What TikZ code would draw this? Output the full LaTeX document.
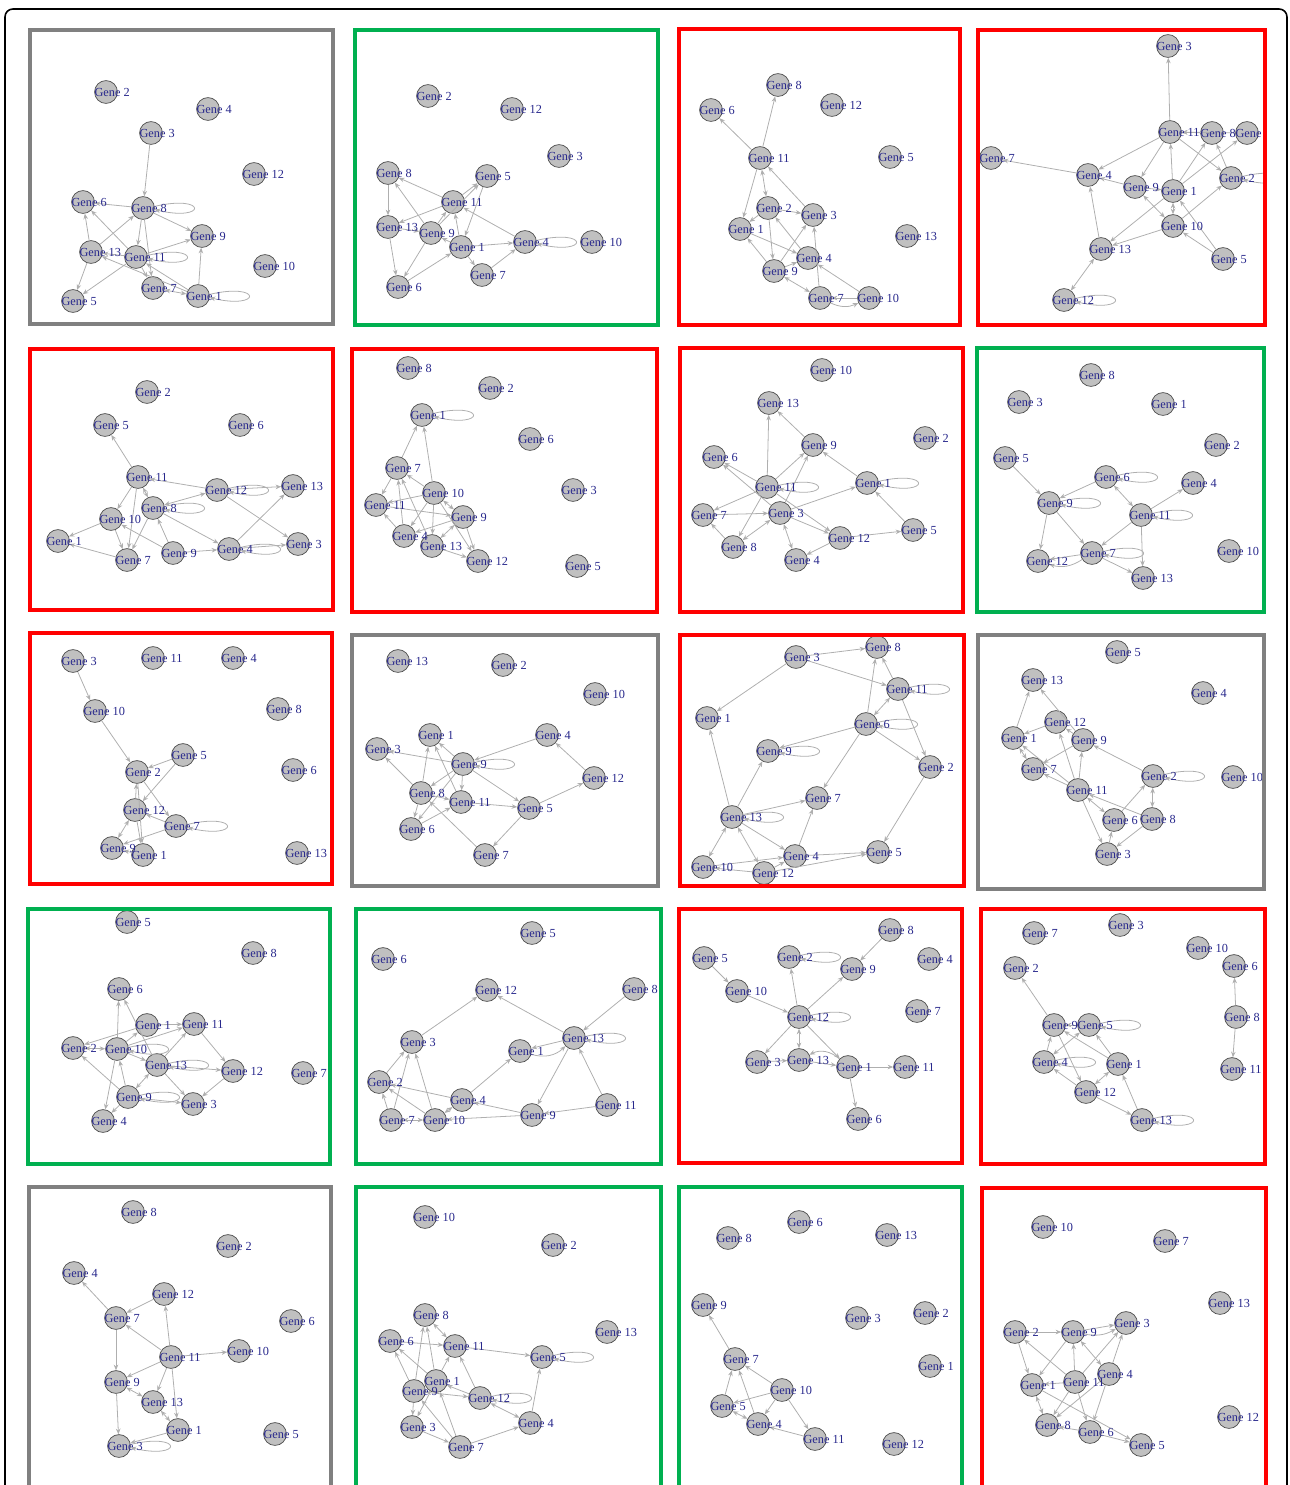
\documentclass[tikz,border=0pt]{standalone}
\usepackage{fontspec}
\setmainfont{Liberation Serif}
\usetikzlibrary{arrows.meta}

\definecolor{labelblue}{RGB}{40,40,140}
\definecolor{linkgray}{RGB}{175,175,175}
\definecolor{nodegray}{RGB}{192,192,192}
\definecolor{framegray}{RGB}{128,128,128}
\definecolor{framegreen}{RGB}{0,176,80}
\definecolor{framered}{RGB}{255,0,0}

\newcommand{\placegenes}[2]{\foreach \g/\x/\y in #2 {\node[gene] (#1g\g) at (\x,\y) {};}}
\newcommand{\labelgenes}[2]{\foreach \g/\x/\y in #2 {\node[genelabel] at (#1g\g.west) {Gene \g};}}
\newcommand{\selfloop}[1]{%
  \draw[link] (#1.8) .. controls +(30pt,7pt) and +(30pt,-7pt) .. (#1.-8);}

\begin{document}
\begin{tikzpicture}[
  x=0.02cm, y=-0.02cm,
  gene/.style={circle, draw=black!70, fill=nodegray, minimum size=13pt, inner sep=0pt, line width=0.4pt},
  genelabel/.style={anchor=west, inner sep=0pt, font=\fontsize{7}{8}\selectfont, text=labelblue},
  link/.style={draw=linkgray, line width=0.45pt, -{Stealth[length=3.2pt, width=2.6pt]}},
  twoway/.style={link, {Stealth[length=3.2pt, width=2.6pt]}-{Stealth[length=3.2pt, width=2.6pt]}},
  frame/.style={line width=2.8pt}
]
\useasboundingbox (0,0) rectangle (1290,1485);
\draw[line width=0.9pt, rounded corners=4.5pt] (5,9) rectangle (1287,1530);

% panel 1
\def\genes{2/106/92, 4/208/109, 3/151/133, 12/254/174, 6/83/202, 8/143/208, 9/202/236,
  13/91/252, 11/136/257, 10/265/266, 7/153/288, 1/198/296, 5/73/301}
\placegenes{pa}{\genes}
\foreach \a/\b in {3/8, 8/6, 8/9, 8/11, 8/7, 13/6, 13/8, 11/6, 11/13, 11/9, 11/7, 11/5, 13/5, 1/13, 1/11, 1/9}
  \draw[link] (pag\a) -- (pag\b);
\draw[twoway] (pag1) -- (pag7);
\foreach \g in {8, 11, 1} {\selfloop{pag\g}}
\labelgenes{pa}{\genes}

% panel 2
\def\genes{2/428/96, 12/512/109, 3/559/156, 8/388/173, 5/487/176, 11/453/202, 13/388/227,
  9/431/233, 1/461/247, 4/525/242, 10/592/242, 7/482/275, 6/398/287}
\placegenes{pb}{\genes}
\foreach \a/\b in {11/8, 8/13, 11/13, 13/9, 9/8, 9/11, 9/5, 11/5, 5/1, 1/11, 1/9, 1/4, 4/11, 1/7, 7/4, 6/1, 9/6, 13/6}
  \draw[link] (pbg\a) -- (pbg\b);
\selfloop{pbg4}
\labelgenes{pb}{\genes}

% panel 3
\def\genes{8/778/85, 6/711/110, 12/832/105, 11/760/158, 5/890/157, 2/768/208, 3/813/215,
  1/740/229, 13/907/236, 4/808/258, 9/774/271, 7/820/298, 10/869/298}
\placegenes{pc}{\genes}
\foreach \a/\b in {11/6, 11/8, 11/1, 3/11, 2/3, 2/1, 2/9, 1/4, 9/1, 9/3, 9/4, 4/2, 7/3, 10/4, 10/7}
  \draw[link] (pcg\a) -- (pcg\b);
\foreach \a/\b in {11/2, 9/7} \draw[twoway] (pcg\a) -- (pcg\b);
\draw[link] (pcg7) to[bend right=25] (pcg10);
\labelgenes{pc}{\genes}

% panel 4
\def\genes{3/1168/46, 11/1170/132, 8/1212/133, 6/1247/133, 7/991/158, 4/1088/175, 9/1135/187,
  1/1173/191, 2/1231/178, 10/1173/226, 13/1101/249, 5/1223/259, 12/1064/300}
\placegenes{pd}{\genes}
\foreach \a/\b in {11/3, 8/11, 6/11, 11/4, 11/9, 11/2, 1/11, 1/8, 1/6, 2/8, 4/7, 9/4, 9/1, 1/13, 10/13, 10/2, 5/10, 5/1, 13/4}
  \draw[link] (pdg\a) -- (pdg\b);
\foreach \a/\b in {10/1, 9/10, 13/12} \draw[twoway] (pdg\a) -- (pdg\b);
\foreach \g in {2, 12} {\selfloop{pdg\g}}
\labelgenes{pd}{\genes}

% panel 5
\def\genes{2/147/392, 5/105/425, 6/240/425, 11/138/477, 12/217/490, 13/293/486, 8/153/508,
  10/111/519, 1/58/541, 7/127/560, 9/173/553, 4/229/549, 3/298/544}
\placegenes{pe}{\genes}
\foreach \a/\b in {11/5, 12/11, 11/10, 11/7, 8/7, 8/4, 12/13, 12/3, 10/1, 10/7, 9/8, 9/10, 7/1, 9/4, 4/3, 4/13}
  \draw[link] (peg\a) -- (peg\b);
\foreach \a/\b in {11/8, 8/12} \draw[twoway] (peg\a) -- (peg\b);
\foreach \g in {8, 12, 4} {\selfloop{peg\g}}
\labelgenes{pe}{\genes}

% panel 6
\def\genes{8/408/368, 2/490/388, 1/422/415, 6/530/439, 7/397/468, 3/573/490, 10/434/493,
  11/376/505, 9/463/517, 4/404/536, 13/432/546, 12/478/561, 5/577/566}
\placegenes{pf}{\genes}
\foreach \a/\b in {7/1, 10/1, 10/7, 7/11, 11/9, 10/11, 10/4, 10/13, 10/12, 4/7, 13/7, 4/11, 9/12, 13/12, 9/4}
  \draw[link] (pfg\a) -- (pfg\b);
\foreach \a/\b in {10/9, 9/13} \draw[twoway] (pfg\a) -- (pfg\b);
\selfloop{pfg1}
\labelgenes{pf}{\genes}

% panel 7
\def\genes{10/822/370, 13/769/403, 2/925/438, 9/813/445, 6/714/457, 11/767/487, 1/867/483,
  7/703/515, 3/780/513, 5/913/530, 12/840/538, 8/733/547, 4/796/560}
\placegenes{pg}{\genes}
\foreach \a/\b in {11/13, 9/13, 11/9, 11/6, 11/7, 11/8, 11/12, 3/6, 3/9, 3/1, 1/9, 5/1, 12/5, 12/4, 3/12, 7/3, 8/7}
  \draw[link] (pgg\a) -- (pgg\b);
\foreach \a/\b in {8/3, 3/4} \draw[twoway] (pgg\a) -- (pgg\b);
\foreach \g in {11, 1} {\selfloop{pgg\g}}
\labelgenes{pg}{\genes}

% panel 8
\def\genes{8/1091/375, 3/1019/402, 1/1163/404, 2/1216/445, 5/1005/458, 6/1106/477, 4/1193/483,
  9/1049/503, 11/1141/515, 10/1229/551, 7/1092/553, 12/1038/561, 13/1143/578}
\placegenes{ph}{\genes}
\foreach \a/\b in {5/9, 6/9, 11/4, 11/7, 11/13, 9/12, 9/7, 7/12, 7/13}
  \draw[link] (phg\a) -- (phg\b);
\draw[twoway] (phg6) -- (phg11);
\draw[link] (phg7) to[bend left=25] (phg12);
\foreach \g in {6, 9, 11, 7} {\selfloop{phg\g}}
\labelgenes{ph}{\genes}

% panel 9
\def\genes{3/73/661, 11/153/658, 4/233/658, 10/95/711, 8/278/709, 5/183/755, 2/137/772,
  6/293/770, 12/135/810, 7/176/826, 9/112/848, 1/143/855, 13/297/853}
\placegenes{pi}{\genes}
\foreach \a/\b in {3/10, 10/2, 5/2, 5/12, 2/7, 12/2, 7/12, 7/9, 12/1, 2/1, 1/9}
  \draw[link] (pig\a) -- (pig\b);
\draw[twoway] (pig12) -- (pig9);
\selfloop{pig7}
\labelgenes{pi}{\genes}

% panel 10
\def\genes{13/398/661, 2/503/665, 10/595/694, 1/430/735, 4/547/735, 3/377/749, 9/463/764,
  12/594/778, 8/421/793, 11/461/802, 5/529/808, 6/411/829, 7/485/855}
\placegenes{pj}{\genes}
\foreach \a/\b in {9/3, 9/1, 4/9, 9/8, 9/11, 9/5, 9/6, 8/1, 8/3, 8/6, 8/11, 11/1, 11/5, 6/11, 5/12, 12/4, 5/7, 7/8}
  \draw[link] (pjg\a) -- (pjg\b);
\selfloop{pjg9}
\labelgenes{pj}{\genes}

% panel 11
\def\genes{8/877/647, 3/796/657, 11/898/689, 1/707/718, 6/866/724, 9/768/751, 2/930/767,
  7/817/798, 13/732/817, 5/878/852, 4/795/856, 10/703/867, 12/764/873}
\placegenes{pk}{\genes}
\foreach \a/\b in {3/8, 3/11, 3/1, 11/8, 6/8, 11/2, 6/2, 6/9, 6/7, 2/5, 13/1, 13/9, 13/7, 13/4, 4/7, 4/5, 12/5, 10/4, 12/10, 12/4}
  \draw[link] (pkg\a) -- (pkg\b);
\foreach \a/\b in {6/11, 13/10, 13/12} \draw[twoway] (pkg\a) -- (pkg\b);
\foreach \g in {11, 6, 9, 13} {\selfloop{pkg\g}}
\labelgenes{pk}{\genes}

% panel 12
\def\genes{5/1117/652, 13/1033/680, 4/1203/693, 12/1056/722, 1/1013/738, 9/1083/740, 7/1033/769,
  2/1153/776, 10/1233/777, 11/1078/790, 6/1114/820, 8/1152/819, 3/1107/854}
\placegenes{pl}{\genes}
\foreach \a/\b in {1/13, 9/13, 12/1, 9/12, 9/7, 11/1, 11/7, 11/12, 11/9, 2/9, 8/11, 6/2, 11/3, 3/6, 8/3}
  \draw[link] (plg\a) -- (plg\b);
\foreach \a/\b in {7/1, 2/8, 11/6} \draw[twoway] (plg\a) -- (plg\b);
\selfloop{plg2}
\labelgenes{pl}{\genes}

% panel 13
\def\genes{5/127/922, 8/253/953, 6/119/989, 1/147/1025, 11/194/1024, 2/73/1048, 10/117/1049,
  13/157/1065, 12/233/1071, 7/303/1073, 9/128/1097, 3/193/1104, 4/103/1121}
\placegenes{pm}{\genes}
\foreach \a/\b in {10/6, 13/6, 1/11, 1/2, 10/1, 10/13, 10/11, 13/12, 13/11, 11/12, 12/3, 13/3, 9/3, 9/2, 9/10, 10/4, 9/4}
  \draw[link] (pmg\a) -- (pmg\b);
\foreach \a/\b in {2/10, 9/13} \draw[twoway] (pmg\a) -- (pmg\b);
\foreach \g in {13, 9, 10} {\selfloop{pmg\g}}
\labelgenes{pm}{\genes}

% panel 14
\def\genes{5/532/933, 6/383/959, 12/487/990, 8/634/989, 3/412/1042, 1/520/1051, 13/574/1038,
  2/379/1082, 4/462/1100, 7/391/1120, 10/435/1120, 9/532/1115, 11/607/1105}
\placegenes{pn}{\genes}
\foreach \a/\b in {3/12, 13/12, 8/13, 13/1, 13/9, 11/13, 4/1, 2/3, 7/3, 10/3, 7/2, 4/2, 10/2, 9/4, 9/10, 11/9}
  \draw[link] (png\a) -- (png\b);
\foreach \a/\b in {10/4, 7/10} \draw[twoway] (png\a) -- (png\b);
\draw[link] (png1) to[bend right=30] (png13);
\selfloop{png13}
\labelgenes{pn}{\genes}

% panel 15
\def\genes{8/890/930, 5/704/958, 2/789/957, 9/852/969, 4/929/959, 10/737/991, 7/917/1011,
  12/799/1017, 3/757/1062, 13/799/1060, 1/848/1067, 11/905/1067, 6/858/1119}
\placegenes{po}{\genes}
\foreach \a/\b in {5/10, 10/12, 12/2, 12/9, 8/9, 12/3, 12/1, 13/1, 3/13, 1/11, 1/6}
  \draw[link] (pog\a) -- (pog\b);
\draw[twoway] (pog12) -- (pog13);
\draw[link] (pog1) to[bend right=35] (pog13);
\foreach \g in {12, 2} {\selfloop{pog\g}}
\labelgenes{po}{\genes}

% panel 16
\def\genes{7/1034/933, 3/1120/925, 10/1198/948, 2/1015/968, 6/1234/966, 9/1054/1025, 5/1089/1025,
  8/1236/1017, 4/1044/1062, 1/1118/1064, 11/1232/1069, 12/1086/1092, 13/1142/1120}
\placegenes{pp}{\genes}
\foreach \a/\b in {9/2, 5/9, 1/9, 1/5, 4/9, 9/12, 12/4, 12/13, 13/1, 8/6, 8/11}
  \draw[link] (ppg\a) -- (ppg\b);
\foreach \a/\b in {5/4, 12/1} \draw[twoway] (ppg\a) -- (ppg\b);
\foreach \g in {5, 4, 13} {\selfloop{ppg\g}}
\labelgenes{pp}{\genes}

% panel 17
\def\genes{8/133/1212, 2/228/1246, 4/74/1273, 12/164/1294, 7/116/1318, 6/291/1321, 11/171/1357,
  10/239/1351, 9/116/1382, 13/153/1402, 1/178/1430, 5/275/1434, 3/119/1446}
\placegenes{pq}{\genes}
\foreach \a/\b in {7/4, 12/7, 11/7, 11/12, 11/10, 7/9, 11/9, 11/13, 11/1, 9/3, 1/3}
  \draw[link] (pqg\a) -- (pqg\b);
\foreach \a/\b in {9/13, 13/1} \draw[twoway] (pqg\a) -- (pqg\b);
\selfloop{pqg3}
\labelgenes{pq}{\genes}

% panel 18
\def\genes{10/425/1217, 2/553/1245, 8/425/1315, 13/607/1332, 6/390/1341, 11/455/1346, 5/542/1357,
  1/436/1381, 9/414/1391, 12/480/1398, 4/530/1423, 3/412/1427, 7/460/1447}
\placegenes{pr}{\genes}
\foreach \a/\b in {6/11, 11/5, 9/8, 1/8, 9/6, 1/6, 1/11, 12/11, 12/1, 4/5, 9/3, 1/3, 3/7, 7/4, 7/9, 7/1}
  \draw[link] (prg\a) -- (prg\b);
\foreach \a/\b in {8/11, 9/12, 12/4} \draw[twoway] (prg\a) -- (prg\b);
\foreach \g in {5, 12} {\selfloop{prg\g}}
\labelgenes{pr}{\genes}

% panel 19
\def\genes{6/799/1222, 8/728/1238, 13/887/1235, 9/703/1305, 3/857/1318, 2/925/1313, 7/735/1359,
  1/930/1366, 10/782/1390, 5/722/1406, 4/758/1424, 11/815/1439, 12/894/1444}
\placegenes{ps}{\genes}
\foreach \a/\b in {7/9, 10/7, 5/7, 4/7, 10/5, 10/4, 10/11, 11/4}
  \draw[link] (psg\a) -- (psg\b);
\draw[twoway] (psg4) -- (psg5);
\labelgenes{ps}{\genes}

% panel 20
\def\genes{10/1043/1227, 7/1165/1241, 13/1220/1303, 2/1015/1332, 9/1073/1332, 3/1126/1323, 4/1109/1374,
  1/1032/1385, 11/1075/1382, 12/1229/1417, 8/1047/1425, 6/1090/1432, 5/1141/1445}
\placegenes{pt}{\genes}
\foreach \a/\b in {2/9, 9/3, 9/1, 11/2, 2/1, 4/3, 11/3, 11/9, 11/1, 11/8, 11/6, 4/6, 4/8, 6/8, 6/5, 1/5}
  \draw[link] (ptg\a) -- (ptg\b);
\foreach \a/\b in {9/4, 1/8} \draw[twoway] (ptg\a) -- (ptg\b);
\draw[link] (ptg9) to[bend right=20] (ptg3);
\labelgenes{pt}{\genes}

\fill[white] (1267,28) rectangle (1284,330);
\fill[white] (1267,990) rectangle (1284,1040);
\foreach \c/\xa/\ya/\xb/\yb in {
  framegray/30/30/333/324, framegreen/355/30/658/325, framered/679/29/960/325, framered/978/30/1265/325,
  framered/30/349/333/610, framered/352/349/657/612, framered/680/348/963/612, framegreen/977/348/1264/612,
  framered/30/633/332/884, framegray/352/635/658/886, framered/680/635/964/886, framegray/978/635/1264/889,
  framegreen/28/909/330/1164, framegreen/356/909/661/1164, framered/679/909/962/1163, framered/981/909/1265/1164,
  framegray/29/1187/331/1500, framegreen/356/1187/661/1500, framegreen/679/1187/962/1500, framered/982/1188/1266/1500}
  \draw[frame, draw=\c] (\xa,\ya) rectangle (\xb,\yb);
\end{tikzpicture}
\end{document}
